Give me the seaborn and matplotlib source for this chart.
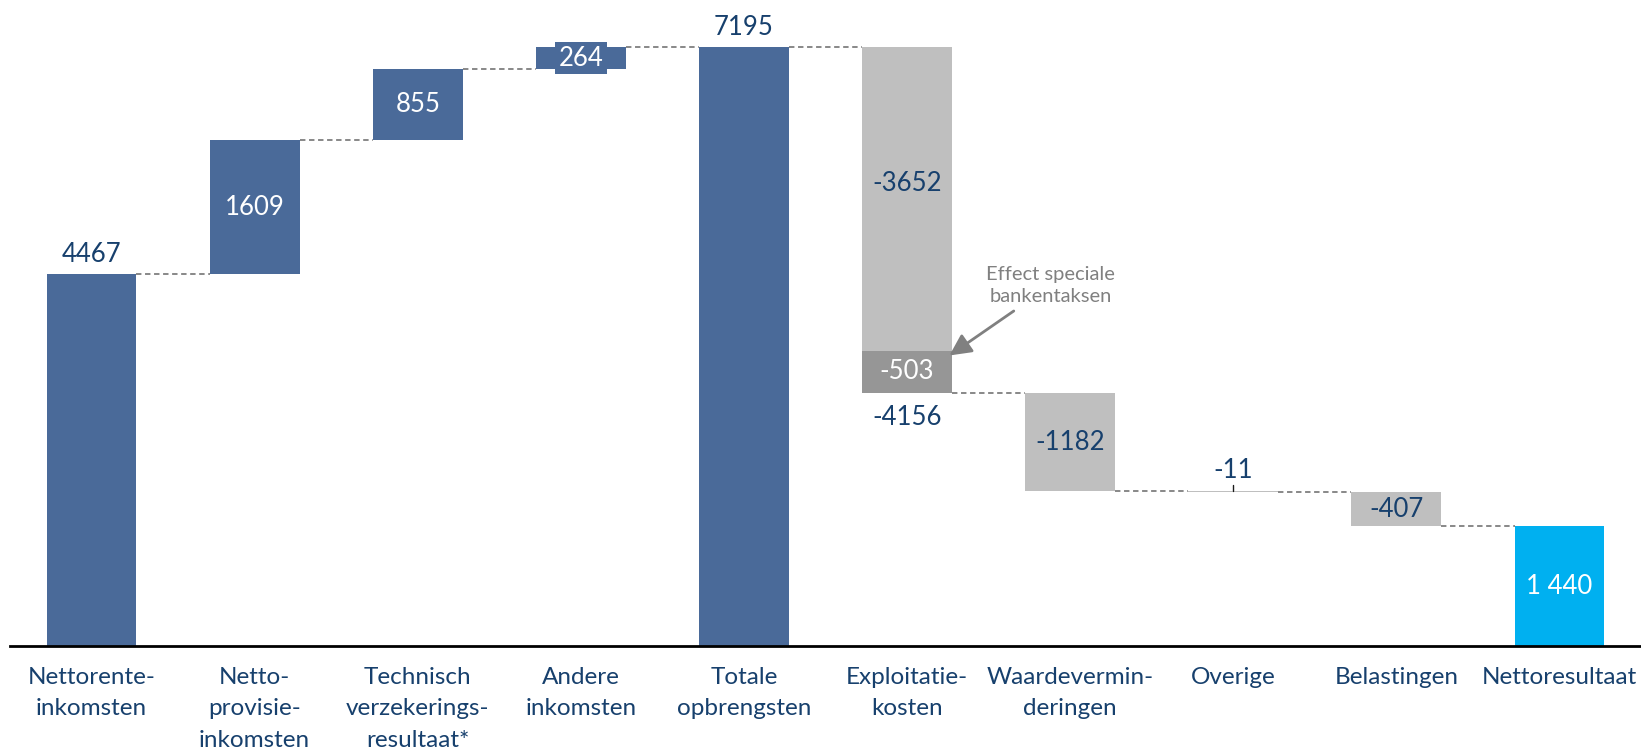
import numpy as np
import pandas as pd
import matplotlib
matplotlib.use("Agg")
import matplotlib.pyplot as plt
import seaborn as sns

# --- data -------------------------------------------------------------
categories = [
    "Nettorente-\ninkomsten",
    "Netto-\nprovisie-\ninkomsten",
    "Technisch\nverzekerings-\nresultaat*",
    "Andere\ninkomsten",
    "Totale\nopbrengsten",
    "Exploitatie-\nkosten",
    "Waardevermin-\nderingen",
    "Overige",
    "Belastingen",
    "Nettoresultaat",
]
values = [4467, 1609, 855, 264, 7195, -3652, -1182, -11, -407, 1440]
is_total = [True, False, False, False, True, False, False, False, False, True]
value_labels = ["4467", "1609", "855", "264", "7195", "-3652", "-1182", "-11", "-407", "1 440"]
bank_tax = -503
bank_tax_label = "-503"
exploit_total_label = "-4156"
exploit_idx = 5

# --- colours ----------------------------------------------------------
BLUE = "#4A6A99"
GREY = "#BFBFBF"
DARK_GREY = "#969696"
CYAN = "#00B0F0"
NAVY = "#17406D"
bar_colors = [BLUE, BLUE, BLUE, BLUE, BLUE, GREY, GREY, GREY, GREY, CYAN]
label_colors = ["w", "w", "w", "w", NAVY, NAVY, NAVY, NAVY, NAVY, "w"]

# --- waterfall geometry -----------------------------------------------
bottoms, levels = [], []
level = 0
for i, (v, tot) in enumerate(zip(values, is_total)):
    if tot:
        bottoms.append(0)
        level = v
    else:
        bottoms.append(level)
        level = level + v
        if i == exploit_idx:
            tax_bottom = level
            level = level + bank_tax
    levels.append(level)

df = pd.DataFrame({"cat": categories, "height": values, "bottom": bottoms})

sns.set_theme(style="white")
plt.rcParams["font.family"] = ["Lato", "DejaVu Sans"]

fig = plt.figure(figsize=(16.41, 7.51), dpi=100)
ax = fig.add_axes([10 / 1641, 105 / 751, 1631 / 1641, 646 / 751])

W = 0.55
sns.barplot(data=df, x="cat", y="height", order=categories, bottom=df["bottom"].values,
            color=BLUE, saturation=1, width=W, linewidth=0, ax=ax)
for p, c in zip(ax.patches, bar_colors):
    p.set_facecolor(c)

# bank tax segment stacked under the operating costs
tax_df = pd.DataFrame({"cat": [categories[exploit_idx]], "height": [bank_tax]})
sns.barplot(data=tax_df, x="cat", y="height", order=categories, bottom=[tax_bottom],
            color=DARK_GREY, saturation=1, width=W, linewidth=0, ax=ax)

# connectors
for i in range(len(values) - 1):
    ax.plot([i + W / 2, i + 1 - W / 2], [levels[i], levels[i]],
            ls=(0, (3, 2)), color="#7F7F7F", lw=1.3, zorder=1)

# value labels
FS = 18.5
for i, (v, b, lab) in enumerate(zip(values, bottoms, value_labels)):
    top = max(b, b + v)
    if i in (0, 4):
        ax.annotate(lab, (i, top), xytext=(0, 5), textcoords="offset points",
                    ha="center", va="bottom", color=NAVY, fontsize=FS)
    elif i == 7:
        ax.plot([i, i], [top, top + 80], color="k", lw=1)
        ax.annotate(lab, (i, top), xytext=(0, 6), textcoords="offset points",
                    ha="center", va="bottom", color=NAVY, fontsize=FS)
    elif i == 3:
        ax.text(i, b + v / 2, lab, ha="center", va="center", color="w", fontsize=FS,
                bbox=dict(boxstyle="square,pad=0.15", fc=BLUE, ec="none"))
    elif i == exploit_idx:
        ax.text(i, b + 0.45 * v, lab, ha="center", va="center",
                color=label_colors[i], fontsize=FS)
    else:
        ax.text(i, b + v / 2, lab, ha="center", va="center",
                color=label_colors[i], fontsize=FS)

ax.text(exploit_idx, tax_bottom + bank_tax / 2, bank_tax_label, ha="center",
        va="center", color="w", fontsize=FS)
ax.annotate(exploit_total_label, (exploit_idx, tax_bottom + bank_tax), xytext=(0, -9),
            textcoords="offset points", ha="center", va="top", color=NAVY, fontsize=FS)

ax.annotate("Effect speciale\nbankentaksen", xy=(exploit_idx + 0.26, 3490),
            xytext=(exploit_idx + 0.88, 4330), ha="center", va="center",
            color="#808080", fontsize=14.5, linespacing=1.4,
            arrowprops=dict(arrowstyle="-|>,head_length=0.9,head_width=0.45",
                            color="#808080", lw=2, shrinkA=3, shrinkB=0))

# axes styling
ax.set_xlim(-0.5, len(values) - 0.5)
ax.set_ylim(0, 7760)
ax.set_yticks([])
ax.set_xlabel("")
ax.set_ylabel("")
for s in ("top", "right", "left"):
    ax.spines[s].set_visible(False)
ax.spines["bottom"].set_color("black")
ax.spines["bottom"].set_linewidth(2)
ax.tick_params(axis="x", length=0, pad=15, labelsize=17.5, labelcolor=NAVY)
for t in ax.get_xticklabels():
    t.set_linespacing(1.62)

fig.savefig("out.png", dpi=100)
